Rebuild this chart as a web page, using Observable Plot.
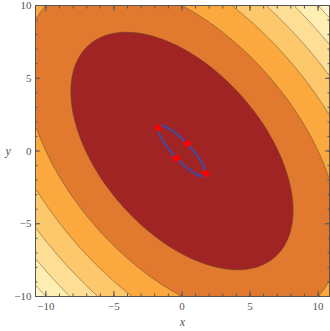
<!DOCTYPE html>
<html><head><meta charset="utf-8">
<script src="https://cdn.jsdelivr.net/npm/d3@7"></script>
<script src="https://cdn.jsdelivr.net/npm/@observablehq/plot@0.6"></script>
<style>body{margin:0;background:#fff}</style>
</head><body><div id="chart"></div>
<script>
// Plot ranges
const xDomain = [-10.76, 10.84];
const yDomain = [-10, 10];
// f(x,y) = a x^2 + b xy + c y^2
const fCoefA = 1, fCoefB = 1, fCoefC = 1;
const contourLevels = [50, 100, 150, 200, 250, 300];
const bandColors = ["#A02424", "#E17A2E", "#FBA83F", "#FDC76C", "#FEDE95", "#FFEEB2", "#FFF6CC"];
// constraint ellipse (blue)
const ellipseSemiMajor = 2.36, ellipseSemiMinor = 0.63;
// red critical points
const pointX = [-1.75, 0.40, -0.42, 1.76];
const pointY = [1.58, 0.52, -0.50, -1.55];
const majorTicks = [-10, -5, 0, 5, 10];
const minorTicks = [-10,-9,-8,-7,-6,-5,-4,-3,-2,-1,0,1,2,3,4,5,6,7,8,9,10];

const f = (x, y) => fCoefA * x * x + fCoefB * x * y + fCoefC * y * y;
// negative of the ellipse form so the region inside the ellipse is the closed contour
const gNeg = (x, y) => {
  const u = (x - y) / Math.SQRT2, v = (x + y) / Math.SQRT2;
  return -((u * u) / (ellipseSemiMajor ** 2) + (v * v) / (ellipseSemiMinor ** 2));
};
const points = pointX.map((x, i) => ({x, y: pointY[i]}));

const axisColor = "#555";
const font = "'Liberation Serif', 'Times New Roman', serif";
const fmt = d => d < 0 ? "\u2212" + Math.abs(d) : String(d);
const blank = () => "";

const chart = Plot.plot({
  width: 330, height: 331,
  marginLeft: 35, marginRight: 1, marginTop: 5, marginBottom: 35,
  x: {domain: xDomain, axis: null},
  y: {domain: yDomain, axis: null},
  color: {type: "threshold", domain: contourLevels, range: bandColors},
  style: {fontFamily: font, color: axisColor, background: "#fff"},
  marks: [
    Plot.contour({
      fill: f, x1: xDomain[0], x2: xDomain[1], y1: yDomain[0], y2: yDomain[1],
      thresholds: [0, ...contourLevels],
      stroke: "#5a4526", strokeOpacity: 0.55, strokeWidth: 0.9
    }),
    Plot.contour({
      value: gNeg, x1: -3, x2: 3, y1: -3, y2: 3, width: 300, height: 300,
      thresholds: [-1], fill: "none", stroke: "#3D4CA5", strokeWidth: 2
    }),
    Plot.dot(points, {x: "x", y: "y", r: 3.3, fill: "#FF0000"}),
    // ticks (inside frame)
    Plot.axisX({anchor: "bottom", ticks: majorTicks, tickSize: -5, tickPadding: 11, tickFormat: fmt, fontSize: 11, label: null, stroke: axisColor}),
    Plot.axisX({anchor: "bottom", ticks: minorTicks, tickSize: -2.5, tickFormat: blank, label: null, stroke: axisColor}),
    Plot.axisX({anchor: "top", ticks: majorTicks, tickSize: -5, tickFormat: blank, label: null, stroke: axisColor}),
    Plot.axisX({anchor: "top", ticks: minorTicks, tickSize: -2.5, tickFormat: blank, label: null, stroke: axisColor}),
    Plot.axisY({anchor: "left", ticks: majorTicks, tickSize: -5, tickPadding: 9, tickFormat: fmt, fontSize: 11, label: null, stroke: axisColor}),
    Plot.axisY({anchor: "left", ticks: minorTicks, tickSize: -2.5, tickFormat: blank, label: null, stroke: axisColor}),
    Plot.axisY({anchor: "right", ticks: majorTicks, tickSize: -5, tickFormat: blank, label: null, stroke: axisColor}),
    Plot.axisY({anchor: "right", ticks: minorTicks, tickSize: -2.5, tickFormat: blank, label: null, stroke: axisColor}),
    Plot.frame({stroke: axisColor, strokeWidth: 1}),
    Plot.text(["x"], {frameAnchor: "bottom", dy: 29, fontStyle: "italic", fontSize: 12, fill: axisColor}),
    Plot.text(["y"], {frameAnchor: "left", dx: -30, fontStyle: "italic", fontSize: 12, fill: axisColor})
  ]
});
document.getElementById("chart").appendChild(chart);
</script>
</body></html>
